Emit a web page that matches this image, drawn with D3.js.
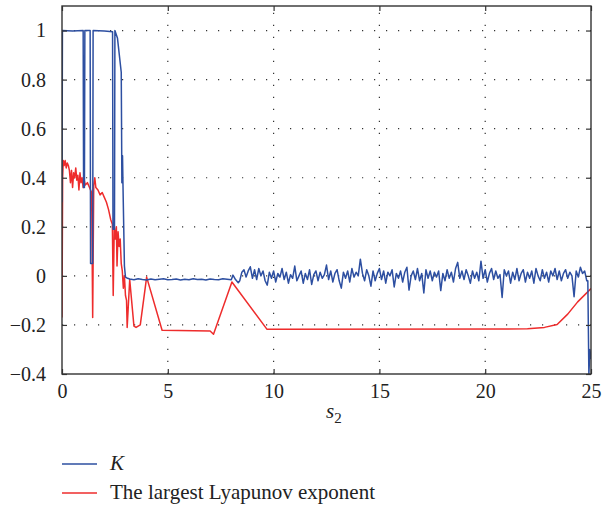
<!DOCTYPE html>
<html>
<head>
<meta charset="utf-8">
<script src="https://cdn.jsdelivr.net/npm/d3@7"></script>
<style>
  body { margin: 0; background: #fff; }
  svg { display: block; }
</style>
</head>
<body>
<script>
// K, before the noisy part: [s2, K]
var kHead = [
  [0, 0.3], [0.02, 1.0], [0.5, 0.998], [1.0, 1.0], [1.02, 0.36], [1.06, 0.36], [1.08, 1.0],
  [1.33, 1.0], [1.35, 0.05], [1.45, 0.05], [1.47, 1.0], [2.0, 0.998], [2.39, 0.995],
  [2.41, 0.19], [2.48, 0.19], [2.5, 1.0], [2.62, 0.97], [2.8, 0.83], [2.83, 0.38],
  [2.86, 0.49], [2.88, 0.38], [2.95, 0.04], [3.0, -0.005], [3.1, -0.01]
];
// flat stretch 3.2 .. 8.0, every 0.2
var kFlat = [-0.013, -0.016, -0.012, -0.015, -0.017, -0.013, -0.016, -0.014, -0.012, -0.016,
  -0.015, -0.013, -0.017, -0.014, -0.016, -0.012, -0.015, -0.014, -0.017, -0.013,
  -0.015, -0.016, -0.012, -0.014, -0.016];
var kMid = [[8.08, 0.003], [8.2, -0.015], [8.33, -0.028]];
// noisy stretch 8.4 .. 24.8, every 0.1
var kNoise = [
  -0.02, 0.015, 0.025, -0.005, 0.02, 0.037,
  -0.01, 0.025, -0.015, 0.03, 0.0, 0.02, -0.02, -0.038, 0.015, -0.01,
  0.02, -0.025, 0.01, -0.005, 0.03, -0.015, 0.015, -0.03, 0.005, -0.01,
  0.04, -0.02, 0.0, 0.02, -0.03, 0.01, -0.015, 0.025, -0.035, 0.005,
  0.02, -0.02, 0.015, -0.01, 0.005, 0.044, -0.015, 0.02, -0.025, 0.01,
  0.025, -0.02, -0.05, 0.015, -0.01, 0.02, -0.025, 0.03, -0.005, 0.015,
  0.0, 0.068, 0.01, -0.02, 0.025, 0.0, -0.042, 0.02, -0.02, 0.01,
  0.03, -0.015, 0.02, -0.03, 0.015, 0.0, 0.025, -0.045, 0.01, -0.01,
  0.02, -0.025, 0.015, 0.035, -0.058, 0.0, 0.02, -0.015, 0.03, -0.02,
  0.01, -0.07, 0.025, -0.01, 0.02, -0.02, 0.015, -0.005, 0.02, -0.06,
  0.01, -0.02, 0.025, -0.01, 0.015, -0.025, 0.03, 0.055, -0.01, 0.02,
  -0.015, 0.025, 0.0, -0.03, 0.02, -0.01, 0.015, -0.02, 0.06, -0.01,
  0.025, -0.025, 0.01, 0.03, -0.015, 0.02, -0.01, 0.005, -0.088, 0.025,
  0.0, 0.02, -0.03, 0.015, -0.015, 0.03, -0.02, 0.01, 0.025, -0.025,
  0.015, -0.01, 0.02, -0.03, 0.03, 0.0, -0.02, 0.025, -0.01, 0.015,
  -0.025, 0.02, 0.0, 0.03, -0.015, 0.02, -0.02, 0.01, 0.025, -0.01,
  0.015, 0.0, -0.085, 0.02, -0.005, 0.035, 0.01, 0.02, -0.02
];
var kTail = [[24.85, -0.02], [24.9, -0.4], [24.95, -0.3], [25.0, -0.34]];

// largest Lyapunov exponent: [s2, lambda]
var lyap = [
  [0, -0.17], [0.03, 0.40], [0.06, 0.47], [0.1, 0.45], [0.15, 0.47], [0.2, 0.44], [0.25, 0.46],
  [0.3, 0.45], [0.35, 0.43], [0.4, 0.38], [0.45, 0.43], [0.5, 0.36], [0.55, 0.42], [0.6, 0.40],
  [0.65, 0.44], [0.7, 0.39], [0.75, 0.41], [0.8, 0.35], [0.85, 0.42], [0.9, 0.38], [0.95, 0.40],
  [1.0, 0.36], [1.05, 0.39], [1.1, 0.37], [1.2, 0.38], [1.3, 0.36], [1.4, 0.34], [1.45, -0.17],
  [1.5, 0.37], [1.55, 0.40], [1.6, 0.36], [1.7, 0.35], [1.8, 0.33], [1.9, 0.34], [2.0, 0.32],
  [2.1, 0.30], [2.2, 0.27], [2.3, 0.23], [2.38, 0.21], [2.42, -0.08], [2.47, 0.2], [2.52, 0.15],
  [2.57, 0.2], [2.6, 0.04], [2.65, 0.18], [2.7, 0.12], [2.75, 0.15], [2.8, 0.05], [2.85, 0.02],
  [2.9, -0.05], [2.95, 0.0], [3.0, -0.08], [3.05, -0.1], [3.08, -0.21], [3.2, -0.015],
  [3.4, -0.205], [3.5, -0.21], [3.7, -0.2], [4.0, -0.005], [4.73, -0.222], [7.0, -0.225],
  [7.16, -0.238], [8.03, -0.025], [9.69, -0.218], [22.0, -0.216], [22.8, -0.21],
  [23.4, -0.198], [23.9, -0.156], [24.37, -0.106], [25.0, -0.052]
];

var xTicks = [0, 5, 10, 15, 20, 25];
var yTicks = [-0.4, -0.2, 0, 0.2, 0.4, 0.6, 0.8, 1];

// assemble K series
var kData = kHead.slice();
kFlat.forEach(function (v, i) { kData.push([3.2 + 0.2 * i, v]); });
kMid.forEach(function (p) { kData.push(p); });
kNoise.forEach(function (v, i) { kData.push([8.4 + 0.1 * i, v]); });
kTail.forEach(function (p) { kData.push(p); });

var svgWidth = 611, svgHeight = 514;
var plot = { left: 62, right: 591, top: 6, bottom: 374 };
var serif = "'Liberation Serif', 'Times New Roman', serif";

var svg = d3.select("body").append("svg")
  .attr("width", svgWidth)
  .attr("height", svgHeight);

svg.append("rect").attr("width", svgWidth).attr("height", svgHeight).attr("fill", "#fff");

var x = d3.scaleLinear().domain([0, 25]).range([plot.left, plot.right]);
var y = d3.scaleLinear().domain([-0.4, 1.1]).range([plot.bottom, plot.top]);

var fmt = function (d) {
  var s = String(+Math.abs(d).toFixed(1));
  return (d < 0 ? "\u2212" : "") + s;
};

// dotted grid
var grid = svg.append("g").attr("stroke", "#333").attr("stroke-width", 1.2)
  .attr("stroke-dasharray", "1.2,10.8");
grid.selectAll(".gx").data(xTicks.filter(function (d) { return d > 0 && d < 25; }))
  .enter().append("line")
  .attr("x1", function (d) { return x(d); }).attr("x2", function (d) { return x(d); })
  .attr("y1", plot.bottom).attr("y2", plot.top);
grid.selectAll(".gy").data(yTicks.filter(function (d) { return d > -0.4; }))
  .enter().append("line")
  .attr("y1", function (d) { return y(d); }).attr("y2", function (d) { return y(d); })
  .attr("x1", plot.left).attr("x2", plot.right);

// data lines
svg.append("clipPath").attr("id", "clip").append("rect")
  .attr("x", plot.left).attr("y", plot.top)
  .attr("width", plot.right - plot.left).attr("height", plot.bottom - plot.top);

var line = d3.line().x(function (d) { return x(d[0]); }).y(function (d) { return y(d[1]); });

var lines = svg.append("g").attr("clip-path", "url(#clip)").attr("fill", "none")
  .attr("stroke-linejoin", "round");
lines.append("path").datum(lyap).attr("d", line)
  .attr("stroke", "#ee2c2c").attr("stroke-width", 1.5);
lines.append("path").datum(kData).attr("d", line)
  .attr("stroke", "#2d4fa1").attr("stroke-width", 1.5);

// axes with inward ticks
var axisColor = "#333";
var bottomAxis = d3.axisBottom(x).tickValues(xTicks).tickFormat(fmt).tickSizeInner(-5).tickSizeOuter(0).tickPadding(10);
var topAxis = d3.axisTop(x).tickValues(xTicks).tickFormat("").tickSizeInner(-5).tickSizeOuter(0);
var leftAxis = d3.axisLeft(y).tickValues(yTicks).tickFormat(fmt).tickSizeInner(-5).tickSizeOuter(0).tickPadding(16);
var rightAxis = d3.axisRight(y).tickValues(yTicks).tickFormat("").tickSizeInner(-5).tickSizeOuter(0);

var gb = svg.append("g").attr("transform", "translate(0," + plot.bottom + ")").call(bottomAxis);
var gt = svg.append("g").attr("transform", "translate(0," + plot.top + ")").call(topAxis);
var gl = svg.append("g").attr("transform", "translate(" + plot.left + ",0)").call(leftAxis);
var gr = svg.append("g").attr("transform", "translate(" + plot.right + ",0)").call(rightAxis);
[gb, gt, gl, gr].forEach(function (g) {
  g.attr("font-family", serif).attr("font-size", 20);
  g.select(".domain").remove();
  g.selectAll(".tick line").attr("stroke", axisColor).attr("stroke-width", 1.2);
  g.selectAll(".tick text").attr("fill", "#222");
});

svg.append("rect")
  .attr("x", plot.left).attr("y", plot.top)
  .attr("width", plot.right - plot.left).attr("height", plot.bottom - plot.top)
  .attr("fill", "none").attr("stroke", axisColor).attr("stroke-width", 1.4);

// x axis label
var xl = svg.append("text")
  .attr("x", 326).attr("y", 418)
  .attr("font-family", serif).attr("font-size", 21).attr("fill", "#222");
xl.append("tspan").attr("font-style", "italic").text("s");
xl.append("tspan").attr("font-size", 15).attr("dy", 5).text("2");

// legend
var legendItems = [
  { label: "K", color: "#2d4fa1", italic: true },
  { label: "The largest Lyapunov exponent", color: "#ee2c2c", italic: false }
];
var legend = svg.append("g");
legendItems.forEach(function (d, i) {
  var yy = 464 + i * 29;
  legend.append("line").attr("x1", 62).attr("x2", 97).attr("y1", yy).attr("y2", yy)
    .attr("stroke", d.color).attr("stroke-width", 1.4);
  legend.append("text").attr("x", 110).attr("y", yy + 6)
    .attr("font-family", serif).attr("font-size", 21)
    .attr("font-style", d.italic ? "italic" : "normal").attr("fill", "#222")
    .text(d.label);
});
</script>
</body>
</html>
